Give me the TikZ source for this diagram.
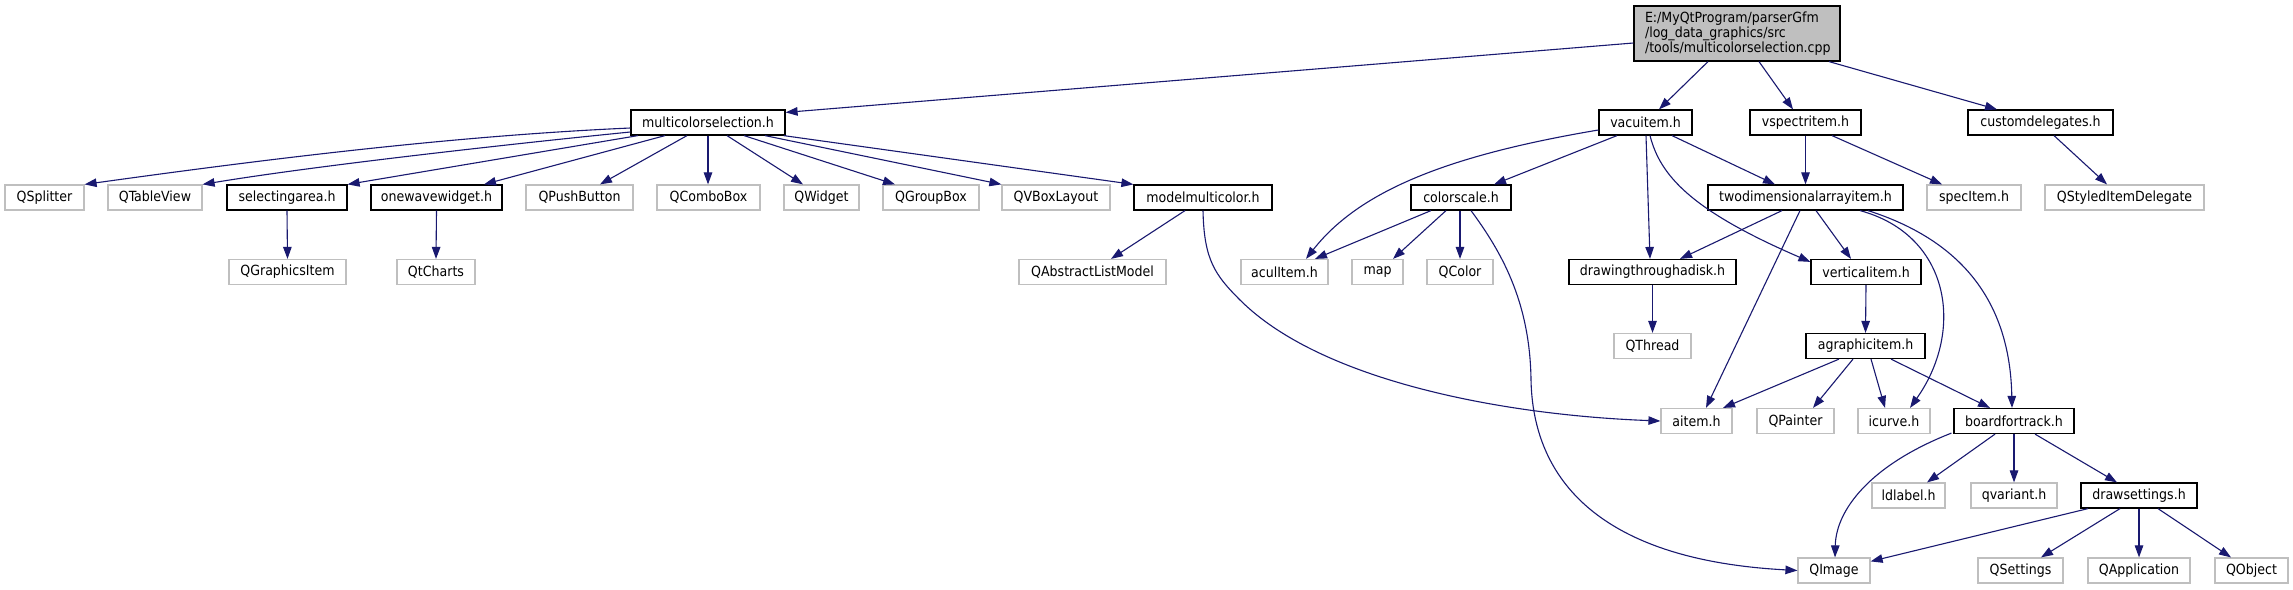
\documentclass[tikz,border=0pt]{standalone}
\usepackage{fontspec}
\setmainfont{DejaVu Sans Condensed}
\usetikzlibrary{arrows.meta,calc}
\definecolor{edgecol}{HTML}{191970}
\definecolor{extcol}{HTML}{BFBFBF}
\definecolor{mainfill}{HTML}{BFBFBF}
\begin{document}
\begin{tikzpicture}[x=1pt,y=-1pt,
  box/.style={draw=black, line width=1.2pt, minimum height=25pt, inner sep=0pt, fill=white, font=\fontsize{14}{15}\selectfont},
  ext/.style={box, draw=extcol},
  dep/.style={draw=edgecol, line width=1.1pt, -{Triangle[length=12pt,width=8.5pt]}}
]
\useasboundingbox[fill=white] (0,0) rectangle (2293,589);
% row 0
\node[box, fill=mainfill, minimum width=206pt, minimum height=55pt, text width=184pt, inner xsep=11pt, align=left] (main) at (1737,33.5) {E:/MyQtProgram/parserGfm\\/log\_data\_graphics/src\\/tools/multicolorselection.cpp};
% row 1
\node[box, minimum width=154pt] (mcs) at (708,122.5) {multicolorselection.h};
\node[box, minimum width=93pt] (vacuitem) at (1645.5,122.5) {vacuitem.h};
\node[box, minimum width=111pt] (vspectritem) at (1805.5,122.5) {vspectritem.h};
\node[box, minimum width=145pt] (customdelegates) at (2040.5,122.5) {customdelegates.h};
% row 2
\node[ext, minimum width=79pt] (QSplitter) at (44.5,197.5) {QSplitter};
\node[ext, minimum width=94pt] (QTableView) at (155,197.5) {QTableView};
\node[box, minimum width=120pt] (selectingarea) at (287,197.5) {selectingarea.h};
\node[box, minimum width=131pt] (onewavewidget) at (436.5,197.5) {onewavewidget.h};
\node[ext, minimum width=107pt] (QPushButton) at (579.5,197.5) {QPushButton};
\node[ext, minimum width=103pt] (QComboBox) at (708.5,197.5) {QComboBox};
\node[ext, minimum width=75pt] (QWidget) at (821.5,197.5) {QWidget};
\node[ext, minimum width=96pt] (QGroupBox) at (931,197.5) {QGroupBox};
\node[ext, minimum width=108pt] (QVBoxLayout) at (1056,197.5) {QVBoxLayout};
\node[box, minimum width=138pt] (modelmulticolor) at (1203,197.5) {modelmulticolor.h};
\node[box, minimum width=100pt] (colorscale) at (1461,197.5) {colorscale.h};
\node[box, minimum width=195pt] (twodim) at (1805.5,197.5) {twodimensionalarrayitem.h};
\node[ext, minimum width=94pt] (specItem) at (1974,197.5) {specItem.h};
\node[ext, minimum width=159pt] (QStyledItemDelegate) at (2124.5,197.5) {QStyledItemDelegate};
% row 3
\node[ext, minimum width=117pt] (QGraphicsItem) at (287.5,272) {QGraphicsItem};
\node[ext, minimum width=78pt] (QtCharts) at (436,272) {QtCharts};
\node[ext, minimum width=147pt] (QAbstractListModel) at (1092.5,272) {QAbstractListModel};
\node[ext, minimum width=87pt] (aculItem) at (1284.5,272) {aculItem.h};
\node[ext, minimum width=51pt] (map) at (1377.5,272) {map};
\node[ext, minimum width=66pt] (QColor) at (1460,272) {QColor};
\node[box, minimum width=167pt] (drawing) at (1652.5,272) {drawingthroughadisk.h};
\node[box, minimum width=110pt] (verticalitem) at (1866,272) {verticalitem.h};
% row 4
\node[ext, minimum width=77pt] (QThread) at (1652.5,346) {QThread};
\node[box, minimum width=119pt] (agraphicitem) at (1865.5,346) {agraphicitem.h};
% row 5
\node[ext, minimum width=71pt] (aitem) at (1696.5,421) {aitem.h};
\node[ext, minimum width=77pt] (QPainter) at (1795.5,421) {QPainter};
\node[ext, minimum width=72pt] (icurve) at (1894,421) {icurve.h};
\node[box, minimum width=120pt] (boardfortrack) at (2014,421) {boardfortrack.h};
% row 6
\node[ext, minimum width=73pt] (ldlabel) at (1908.5,495.5) {ldlabel.h};
\node[ext, minimum width=86pt] (qvariant) at (2014,495.5) {qvariant.h};
\node[box, minimum width=116pt] (drawsettings) at (2139,495.5) {drawsettings.h};
% row 7
\node[ext, minimum width=72pt] (QImage) at (1834,570.5) {QImage};
\node[ext, minimum width=85pt] (QSettings) at (2020.5,570.5) {QSettings};
\node[ext, minimum width=102pt] (QApplication) at (2139,570.5) {QApplication};
\node[ext, minimum width=73pt] (QObject) at (2251.5,570.5) {QObject};

% edges from main
\draw[dep] ($(main.west)+(0,9.5)$) -- ($(mcs.north east)+(0,3)$);
\draw[dep] ($(main.south)+(-29,0)$) -- ($(vacuitem.north)+(13.5,0)$);
\draw[dep] ($(main.south)+(22,0)$) -- ($(vspectritem.north)+(-12.5,0)$);
\draw[dep] ($(main.south)+(92,0)$) -- ($(customdelegates.north)+(-43.5,0)$);
% multicolorselection.h
\draw[dep] ($(mcs.west)+(0,5.5)$) .. controls (450,136) and (260,160) .. (QSplitter.north east);
\draw[dep] ($(mcs.west)+(0,9.5)$) .. controls (520,143) and (320,165) .. (QTableView.north east);
\draw[dep] ($(mcs.south)+(-70,0)$) -- (selectingarea.north east);
\draw[dep] ($(mcs.south)+(-43,0)$) -- ($(onewavewidget.north)+(47.5,0)$);
\draw[dep] ($(mcs.south)+(-21,0)$) -- ($(QPushButton.north)+(20.5,0)$);
\draw[dep] (mcs.south) -- ($(QComboBox.north)+(-0.5,0)$);
\draw[dep] ($(mcs.south)+(19,0)$) -- ($(QWidget.north)+(-18.5,0)$);
\draw[dep] ($(mcs.south)+(36,0)$) -- ($(QGroupBox.north)+(-36,0)$);
\draw[dep] ($(mcs.south)+(57,0)$) -- (QVBoxLayout.north west);
\draw[dep] ($(mcs.south east)+(-2,0)$) -- (modelmulticolor.north west);
\draw[dep] (selectingarea.south) -- (QGraphicsItem.north);
\draw[dep] (onewavewidget.south) -- (QtCharts.north);
% modelmulticolor.h
\draw[dep] ($(modelmulticolor.south)+(-18,0)$) -- ($(QAbstractListModel.north)+(18.5,0)$);
\draw[dep] (modelmulticolor.south) .. controls (1204,260) and (1215,275) .. (1240,300) .. controls (1320,380) and (1500,415) .. (aitem.west);
% vacuitem.h
\draw[dep] ($(vacuitem.south)+(-28.5,0)$) -- ($(colorscale.north)+(33,0)$);
\draw[dep] ($(vacuitem.west)+(0,7.5)$) .. controls (1450,155) and (1360,190) .. ($(aculItem.north)+(21.5,0)$);
\draw[dep] ($(vacuitem.south)+(26.5,0)$) -- ($(twodim.north)+(-30.5,0)$);
\draw[dep] ($(vacuitem.south)+(0.5,0)$) -- ($(drawing.north)+(-2.5,0)$);
\draw[dep] ($(vacuitem.south)+(4.5,0)$) .. controls (1660,175) and (1690,210) .. ($(verticalitem.north west)+(0,3)$);
% vspectritem.h
\draw[dep] (vspectritem.south) -- (twodim.north);
\draw[dep] ($(vspectritem.south)+(26.5,0)$) -- ($(specItem.north)+(-32,0)$);
% customdelegates.h
\draw[dep] ($(customdelegates.south)+(13.5,0)$) -- ($(QStyledItemDelegate.north)+(-17.5,0)$);
% colorscale.h
\draw[dep] ($(colorscale.south)+(-30,0)$) -- ($(aculItem.north)+(30.5,0)$);
\draw[dep] ($(colorscale.south)+(-15,0)$) -- ($(map.north)+(15.5,0)$);
\draw[dep] ($(colorscale.south)+(-1,0)$) -- (QColor.north);
\draw[dep] ($(colorscale.south)+(10,0)$) .. controls (1500,250) and (1530,300) .. (1531,380) .. controls (1533,480) and (1600,560) .. (QImage.west);
% drawingthroughadisk.h
\draw[dep] (drawing.south) -- (QThread.north);
% twodimensionalarrayitem.h
\draw[dep] ($(twodim.south)+(-23.5,0)$) -- ($(drawing.north)+(27.5,0)$);
\draw[dep] ($(twodim.south)+(-5.5,0)$) -- ($(aitem.north)+(9.5,0)$);
\draw[dep] ($(twodim.south)+(10.5,0)$) -- ($(verticalitem.north)+(-15,0)$);
\draw[dep] ($(twodim.south)+(54.5,0)$) .. controls (1950,235) and (1965,330) .. ($(icurve.north)+(16,0)$);
\draw[dep] ($(twodim.south)+(62.5,0)$) .. controls (1960,240) and (2010,300) .. ($(boardfortrack.north)+(-2,0)$);
% verticalitem.h
\draw[dep] (verticalitem.south) -- (agraphicitem.north);
% agraphicitem.h
\draw[dep] ($(agraphicitem.south)+(-26.5,0)$) -- ($(aitem.north)+(26.5,0)$);
\draw[dep] ($(agraphicitem.south)+(-12.5,0)$) -- ($(QPainter.north)+(17.5,0)$);
\draw[dep] ($(agraphicitem.south)+(5.5,0)$) -- ($(icurve.north)+(-9,0)$);
\draw[dep] ($(agraphicitem.south)+(25.5,0)$) -- ($(boardfortrack.north)+(-24,0)$);
% boardfortrack.h
\draw[dep] ($(boardfortrack.south west)+(-2,-1)$) .. controls (1870,465) and (1836,510) .. ($(QImage.north)+(1,0)$);
\draw[dep] ($(boardfortrack.south)+(-19,0)$) -- ($(ldlabel.north)+(18.5,0)$);
\draw[dep] (boardfortrack.south) -- (qvariant.north);
\draw[dep] ($(boardfortrack.south)+(21,0)$) -- ($(drawsettings.north)+(-22,0)$);
% drawsettings.h
\draw[dep] ($(drawsettings.south)+(-51,0)$) -- ($(QImage.north east)+(0,4)$);
\draw[dep] ($(drawsettings.south)+(-19,0)$) -- ($(QSettings.north)+(20.5,0)$);
\draw[dep] (drawsettings.south) -- (QApplication.north);
\draw[dep] ($(drawsettings.south)+(19,0)$) -- ($(QObject.north)+(-20.5,0)$);
\end{tikzpicture}
\end{document}
